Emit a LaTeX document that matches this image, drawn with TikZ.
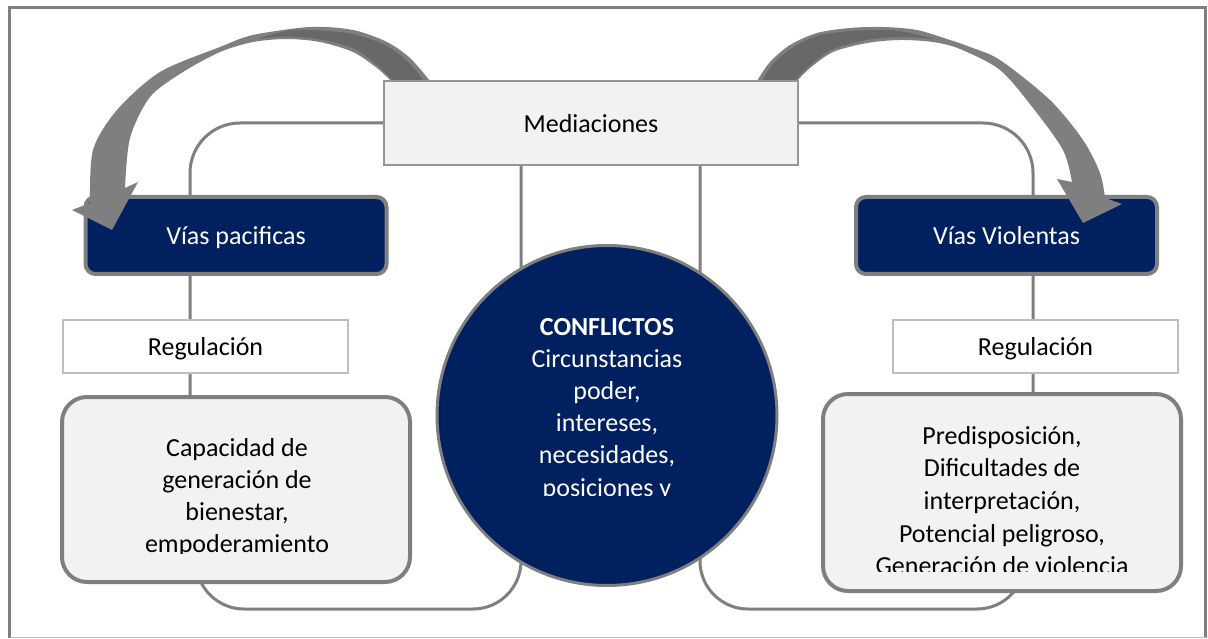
\documentclass[tikz,border=0pt]{standalone}
\usepackage{fontspec}
\setmainfont{Carlito}
\pgfdeclarelayer{background}
\pgfsetlayers{background,main}
\definecolor{navy}{RGB}{0,32,96}
\definecolor{boxfill}{RGB}{242,242,242}
\definecolor{linegray}{RGB}{127,127,127}
\definecolor{darkband}{RGB}{104,104,104}
\definecolor{thinborder}{RGB}{150,150,150}
\definecolor{regborder}{RGB}{191,191,191}
\begin{document}
\begin{tikzpicture}[x=1pt,y=-1pt,
  every node/.style={font=\fontsize{26}{32}\selectfont},
  conn/.style={draw=linegray, line width=3pt},
  navybox/.style={draw=linegray, line width=4pt, fill=navy, rounded corners=10pt,
    text=white, text depth=0pt, minimum width=301pt, minimum height=77pt},
  regbox/.style={draw=regborder, line width=1.2pt, fill=white, text depth=0pt,
    minimum width=285pt, minimum height=53pt},
  medbox/.style={draw=thinborder, line width=1.2pt, fill=boxfill, text depth=0pt,
    minimum width=414pt, minimum height=84pt},
  roundbox/.style={draw=linegray, line width=4pt, fill=boxfill, rounded corners=25pt},
  bigcircle/.style={circle, draw=linegray, line width=3pt, fill=navy,
    minimum size=340pt, inner sep=0pt},
  txtline/.style={anchor=base, inner sep=0pt},
  whiteline/.style={txtline, text=white},
  arrowbody/.style={fill=linegray},
  arrowshade/.style={fill=darkband},
]
\useasboundingbox (0,0) rectangle (1208,639);

% frame
\draw[linegray, line width=3.5pt] (9.5,637.5) -- (9.5,7.5) -- (1205.5,7.5) -- (1205.5,637.5);
\draw[regborder, line width=1.5pt] (9.5,637.5) -- (1205.5,637.5);

% nodes
\node[navybox] (pac) at (236,235.5) {Vías pacificas};
\node[navybox] (vio) at (1006.5,235.5) {Vías Violentas};
\node[regbox] (regL) at (205.5,346.5) {Regulación};
\node[regbox] (regR) at (1035.5,346.5) {Regulación};
\node[roundbox, minimum width=348pt, minimum height=185pt] (boxL) at (236,489.5) {};
\node[roundbox, minimum width=358pt, minimum height=197pt] (boxR) at (1002,492.5) {};
\node[bigcircle] (circ) at (607,415.5) {};

% circle text (clipped as in the source)
\begin{scope}
  \clip (430,300) rectangle (790,495);
  \node[whiteline, font=\fontsize{26}{32}\selectfont\bfseries] (c1) at (607,335) {CONFLICTOS};
  \node[whiteline] (c2) at (607,367) {Circunstancias};
  \node[whiteline] (c3) at (607,399.5) {poder,};
  \node[whiteline] (c4) at (607,431.5) {intereses,};
  \node[whiteline] (c5) at (607,463.5) {necesidades,};
  \node[whiteline] (c6) at (607,496) {posiciones y};
\end{scope}

% left box text
\begin{scope}
  \clip (70,400) rectangle (405,553);
  \node[txtline] (l1) at (237,456) {Capacidad de};
  \node[txtline] (l2) at (237,488) {generación de};
  \node[txtline] (l3) at (237,520) {bienestar,};
  \node[txtline] (l4) at (237,552.5) {empoderamiento};
\end{scope}

% right box text
\begin{scope}
  \clip (830,400) rectangle (1175,571);
  \node[txtline] (r1) at (1002,444) {Predisposición,};
  \node[txtline] (r2) at (1002,476.7) {Dificultades de};
  \node[txtline] (r3) at (1002,509.4) {interpretación,};
  \node[txtline] (r4) at (1002,542.1) {Potencial peligroso,};
  \node[txtline] (r5) at (1002,574.8) {Generación de violencia};
\end{scope}

% left curved arrow
\fill[arrowbody] (390,95) -- plot[smooth] coordinates {(390,80) (377,68) (353,52) (320,42) (287,39) (253,42) (220,52) (183,72) (150,97) (130,138) (125,188)}
  -- (138,182) -- (112,230) -- (72,210) --
  plot[smooth] coordinates {(90,203) (93,150) (117,110) (160,72) (220,47) (253,35) (310,27) (353,30) (387,42) (410,58) (430,81)}
  -- (430,95) -- cycle;
\fill[arrowshade] (393,95) -- plot[smooth] coordinates {(393,81) (379,67) (355,49) (320,39.5) (287,36.5) (258,38.5)}
  -- plot[smooth] coordinates {(258,38.5) (287,31) (312,30) (353,34) (387,46) (408,62) (424,81)}
  -- (424,95) -- cycle;

% right curved arrow
\fill[arrowbody] (798,95) -- plot[smooth] coordinates {(798,80) (810,68) (833,52) (867,43) (900,40) (933,42) (960,49) (1000,70) (1033,108) (1063,150) (1072,182)}
  -- (1057,179) -- (1083,223) -- (1122,204) --
  plot[smooth] coordinates {(1105,198) (1100,173) (1083,140) (1050,100) (1000,60) (970,47) (950,40) (917,30) (883,27) (850,28) (817,33) (790,45) (770,62) (757,81)}
  -- (757,95) -- cycle;
\fill[arrowshade] (795,95) -- plot[smooth] coordinates {(795,81) (807,68) (831,50) (866,40) (900,37) (935,39)}
  -- plot[smooth] coordinates {(935,39) (900,31) (883,30) (850,31) (817,36) (792,48) (773,64) (762,81)}
  -- (762,95) -- cycle;

% mediaciones box (on top of the arrow tails)
\node[medbox] (med) at (591,123) {Mediaciones};

% connectors behind everything
\coordinate (lx) at (190,0);
\coordinate (rx) at (1033,0);
\coordinate (ml) at (521,0);
\coordinate (mr) at (700,0);
\coordinate (bl) at (196,609);
\coordinate (br) at (1025,609);
\begin{pgfonlayer}{background}
  \fill[white] (0,0) rectangle (1208,639);
  \draw[conn, rounded corners=50pt] (med.west) -- (lx |- med.west) -- (lx |- boxL.north);
  \draw[conn, rounded corners=50pt] (med.east) -- (rx |- med.east) -- (rx |- boxR.north);
  \draw[conn, rounded corners=48pt] (ml |- med.south) -- (ml |- bl) -- (bl) -- (bl |- boxL.center);
  \draw[conn, rounded corners=48pt] (mr |- med.south) -- (mr |- br) -- (br) -- (br |- boxR.center);
\end{pgfonlayer}
\end{tikzpicture}
\end{document}
